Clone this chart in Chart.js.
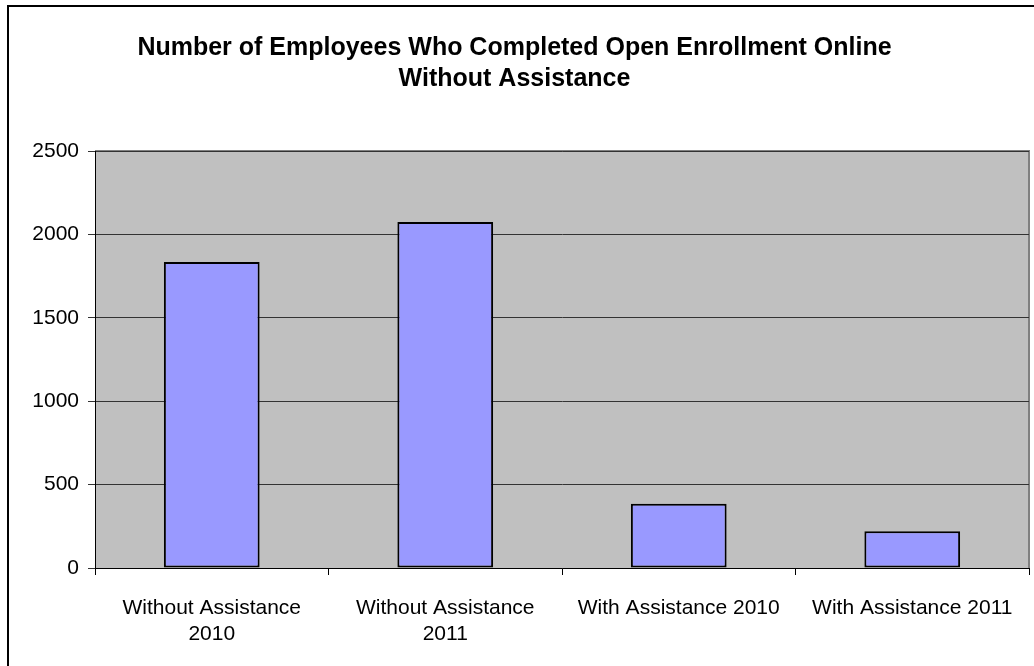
<!DOCTYPE html>
<html>
<head>
<meta charset="utf-8">
<script src="https://cdn.jsdelivr.net/npm/chart.js@4"></script>
<style>
  html, body { margin: 0; padding: 0; background: #fff; }
  canvas { display: block; }
</style>
</head>
<body>
<canvas id="bar-chart" width="1034" height="666"></canvas>
<script>
const categories = [
  ["Without Assistance", "2010"],
  ["Without Assistance", "2011"],
  "With Assistance 2010",
  "With Assistance 2011"
];
const employees = [1835, 2075, 385, 220];
const yTicks = [0, 500, 1000, 1500, 2000, 2500];

// outer frame + grey plot area
const frame = {
  id: 'frame',
  beforeDraw(chart) {
    const c = chart.ctx, a = chart.chartArea;
    c.save();
    c.fillStyle = '#C0C0C0';
    c.fillRect(a.left, a.top, a.right - a.left, a.bottom - a.top);
    c.strokeStyle = '#808080';
    c.lineWidth = 2;
    c.beginPath();
    c.moveTo(a.left, a.top);
    c.lineTo(a.right, a.top);
    c.lineTo(a.right, a.bottom);
    c.stroke();
    c.strokeStyle = '#000';
    c.lineWidth = 2;
    c.strokeRect(8, 6, 1060, 700);
    c.restore();
  }
};

new Chart(document.getElementById("bar-chart"), {
  type: 'bar',
  data: {
    labels: categories,
    datasets: [{
      data: employees,
      backgroundColor: "#9999FF",
      borderColor: "#000000",
      borderWidth: 2,
      borderSkipped: false,
      barPercentage: 0.41,
      categoryPercentage: 1
    }]
  },
  options: {
    responsive: false,
    animation: false,
    layout: { padding: { left: 0, right: 5, top: 0, bottom: 0 } },
    plugins: {
      legend: { display: false },
      tooltip: { enabled: false },
      title: {
        display: true,
        text: ['Number of Employees Who Completed Open Enrollment Online', 'Without Assistance'],
        color: '#000',
        font: { family: 'Liberation Sans, Arial, sans-serif', size: 25, weight: 'bold', lineHeight: 1.24 },
        padding: { top: 33, bottom: 56 }
      }
    },
    scales: {
      x: {
        grid: { drawOnChartArea: false, drawTicks: true, tickLength: 7, color: '#000', offset: true },
        border: { color: '#000', width: 1 },
        ticks: {
          color: '#000',
          padding: 20,
          maxRotation: 0,
          autoSkip: false,
          font: { family: 'Liberation Sans, Arial, sans-serif', size: 21, lineHeight: 1.25 }
        },
        afterFit(scale) { scale.height = 98; }
      },
      y: {
        min: 0,
        max: 2500,
        afterBuildTicks(scale) { scale.ticks = yTicks.map(v => ({ value: v })); },
        grid: { color: '#333', tickLength: 7, lineWidth: 1 },
        border: { color: '#000', width: 1 },
        ticks: {
          color: '#000',
          padding: 9,
          callback: v => String(v),
          font: { family: 'Liberation Sans, Arial, sans-serif', size: 21 }
        },
        afterFit(scale) { scale.width = 95; }
      }
    }
  },
  plugins: [frame]
});
</script>
</body>
</html>
